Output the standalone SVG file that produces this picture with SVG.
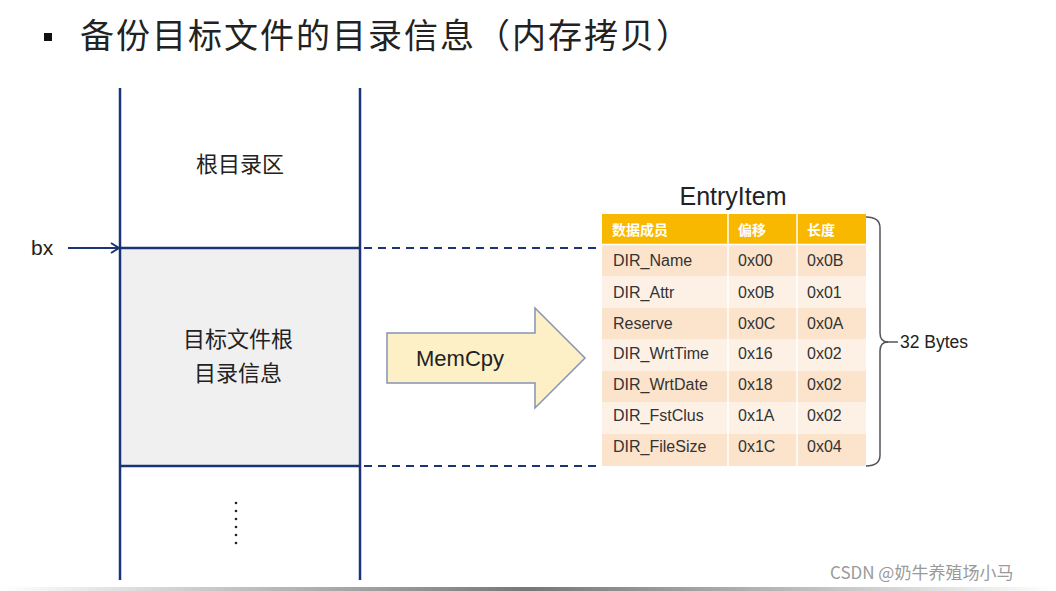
<svg xmlns="http://www.w3.org/2000/svg" width="1056" height="591" viewBox="0 0 1056 591">
<style>
.cjk{font-family:"Noto Sans CJK SC","Noto Sans",sans-serif;fill:#222}
.lat{font-family:"Liberation Sans",Arial,sans-serif;fill:#222}
.frame{stroke:#1b3478;stroke-width:2.5;fill:none}
.dash{stroke:#1b3478;stroke-width:2;stroke-dasharray:8 6;fill:none}
.cell{font-family:"Liberation Sans",Arial,sans-serif;font-size:16px;fill:#333}
.hdr{font-family:"Noto Sans CJK SC",sans-serif;font-size:14px;font-weight:bold;fill:#fff}
.rowA{fill:#fce3cb}
.rowB{fill:#fdf1e6}
</style>
<defs>
<linearGradient id="bot" x1="0" x2="1" y1="0" y2="0">
<stop offset="0" stop-color="#ffffff"/>
<stop offset="0.5" stop-color="#777"/>
<stop offset="1" stop-color="#ffffff"/>
</linearGradient>
<marker id="open" markerWidth="12" markerHeight="12" refX="10" refY="6" orient="auto" markerUnits="userSpaceOnUse">
<path d="M2,1 L10,6 L2,11" fill="none" stroke="#1b3478" stroke-width="2"/>
</marker>
</defs>
<rect width="1056" height="591" fill="#fff"/>
<!-- title -->
<g id="title">
<rect x="44" y="33" width="8" height="8" fill="#111"/>
<text class="cjk" x="80" y="48" font-size="34" fill="#111" textLength="610">备份目标文件的目录信息（内存拷贝）</text>
</g>
<!-- memory column -->
<g id="memory">
<rect x="120" y="248" width="240" height="218" fill="#f0f0f0"/>
<line class="frame" x1="120" y1="88" x2="120" y2="580"/>
<line class="frame" x1="360" y1="88" x2="360" y2="580"/>
<line class="frame" x1="120" y1="248" x2="360" y2="248" stroke-width="3"/>
<line class="frame" x1="120" y1="466" x2="360" y2="466" stroke-width="3"/>
<text class="cjk" x="240" y="172" font-size="22" text-anchor="middle">根目录区</text>
<text class="cjk" x="238" y="347" font-size="22" text-anchor="middle">目标文件根</text>
<text class="cjk" x="238" y="381" font-size="22" text-anchor="middle">目录信息</text>
<g fill="#222">
<circle cx="236" cy="503" r="1.3"/><circle cx="236" cy="511" r="1.3"/><circle cx="236" cy="519" r="1.3"/>
<circle cx="236" cy="527" r="1.3"/><circle cx="236" cy="535" r="1.3"/><circle cx="236" cy="543" r="1.3"/>
</g>
</g>
<!-- bx pointer -->
<g id="bx">
<text class="lat" x="31" y="255" font-size="21">bx</text>
</g>
<!-- connectors -->
<g id="connectors">
<line x1="68" y1="248" x2="119" y2="248" stroke="#1b3478" stroke-width="2" marker-end="url(#open)"/>
<line class="dash" x1="364" y1="248" x2="602" y2="248"/>
<line class="dash" x1="364" y1="466" x2="602" y2="466"/>
</g>
<!-- MemCpy arrow -->
<g id="memcpy">
<path d="M387,333 L535,333 L535,308 L585,358 L535,408 L535,383 L387,383 Z" fill="#fdf0c6" stroke="#8593b5" stroke-width="1.5"/>
<text class="lat" x="416" y="366" font-size="22" word-spacing="2">MemCpy</text>
</g>
<!-- EntryItem table -->
<g id="entryitem">
<text class="lat" x="733" y="205" font-size="25" text-anchor="middle">EntryItem</text>
<rect x="602" y="214" width="264" height="30" fill="#f9b800"/>
<rect class="rowA" x="602" y="245" width="264" height="31"/>
<rect class="rowB" x="602" y="276" width="264" height="32"/>
<rect class="rowA" x="602" y="308" width="264" height="31"/>
<rect class="rowB" x="602" y="339" width="264" height="32"/>
<rect class="rowA" x="602" y="371" width="264" height="31"/>
<rect class="rowB" x="602" y="402" width="264" height="32"/>
<rect class="rowA" x="602" y="434" width="264" height="32"/>
<g stroke="#fff" stroke-width="1.5">
<line x1="728" y1="214" x2="728" y2="466"/>
<line x1="797" y1="214" x2="797" y2="466"/>
<line x1="602" y1="244.5" x2="866" y2="244.5"/>
</g>
<text class="hdr" x="612" y="235">数据成员</text>
<text class="hdr" x="738" y="235">偏移</text>
<text class="hdr" x="807" y="235">长度</text>
<g class="cell">
<text x="613" y="266">DIR_Name</text><text x="738" y="266">0x00</text><text x="807" y="266">0x0B</text>
<text x="613" y="298">DIR_Attr</text><text x="738" y="298">0x0B</text><text x="807" y="298">0x01</text>
<text x="613" y="329">Reserve</text><text x="738" y="329">0x0C</text><text x="807" y="329">0x0A</text>
<text x="613" y="359">DIR_WrtTime</text><text x="738" y="359">0x16</text><text x="807" y="359">0x02</text>
<text x="613" y="390">DIR_WrtDate</text><text x="738" y="390">0x18</text><text x="807" y="390">0x02</text>
<text x="613" y="421">DIR_FstClus</text><text x="738" y="421">0x1A</text><text x="807" y="421">0x02</text>
<text x="613" y="452">DIR_FileSize</text><text x="738" y="452">0x1C</text><text x="807" y="452">0x04</text>
</g>
</g>
<!-- brace -->
<g id="brace">
<path d="M866,217 Q880,217 880,228 L880,333 Q880,342 888,342 Q880,342 880,351 L880,455 Q880,466 866,466" fill="none" stroke="#555" stroke-width="1.5"/>
<line x1="886" y1="342" x2="898" y2="342" stroke="#555" stroke-width="1.5"/>
<text class="lat" x="900" y="348" font-size="17.5" fill="#333">32 Bytes</text>
</g>
<!-- footer -->
<g id="footer">
<rect x="0" y="587" width="1056" height="4" fill="url(#bot)"/>
<text x="830" y="579" font-family="Noto Sans CJK SC,sans-serif" font-size="17" fill="#9a9a9a">CSDN @奶牛养殖场小马</text>
</g>
</svg>
